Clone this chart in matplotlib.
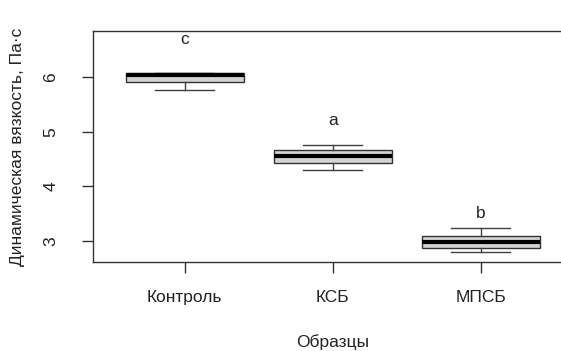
import matplotlib
matplotlib.use("Agg")
import matplotlib.pyplot as plt

plt.rcParams["font.family"] = ["Liberation Sans", "DejaVu Sans"]

# data
samples = ["Контроль", "КСБ", "МПСБ"]
whisker_low = [5.77, 4.29, 2.79]
q1 = [5.91, 4.42, 2.88]
median = [6.04, 4.55, 2.99]
q3 = [6.08, 4.66, 3.10]
whisker_high = [6.08, 4.75, 3.23]
letters = ["c", "a", "b"]
letter_y = [6.68, 5.20, 3.51]

stats = []
for i, name in enumerate(samples):
    stats.append({
        "label": name,
        "whislo": whisker_low[i],
        "q1": q1[i],
        "med": median[i],
        "q3": q3[i],
        "whishi": whisker_high[i],
        "fliers": [],
    })

fs = 12.5

fig = plt.figure(figsize=(5.61, 3.51), dpi=100)
ax = fig.add_axes([0.1658, 0.2536, 0.855, 0.658])

ax.bxp(
    stats,
    positions=[1, 2, 3],
    widths=0.8,
    patch_artist=True,
    showfliers=False,
    boxprops={"facecolor": "#d3d3d3", "edgecolor": "#333333", "linewidth": 1.0},
    medianprops={"color": "black", "linewidth": 3.0, "solid_capstyle": "butt"},
    whiskerprops={"color": "#404040", "linewidth": 1.0},
    capprops={"color": "#404040", "linewidth": 1.0},
    capwidths=0.4,
)

for i, letter in enumerate(letters):
    ax.text(i + 1, letter_y[i], letter, ha="center", va="center",
            fontsize=fs, color="#222222")

ax.set_xlim(0.38, 3.62)
ax.set_ylim(2.616, 6.841)
ax.set_yticks([3, 4, 5, 6])
ax.set_yticklabels(["3", "4", "5", "6"], rotation=90, va="center")
ax.set_xticks([1, 2, 3])
ax.set_xticklabels(samples)

ax.tick_params(axis="both", length=8, width=1.0, color="#333333",
               labelsize=fs, labelcolor="#222222")
ax.tick_params(axis="x", pad=12)
ax.tick_params(axis="y", pad=17)

for side in ["top", "bottom", "left", "right"]:
    ax.spines[side].set_color("#333333")
    ax.spines[side].set_linewidth(1.0)

ax.set_xlabel("Образцы", fontsize=fs, color="#222222", labelpad=21)
ax.set_ylabel("Динамическая вязкость, Па·с", fontsize=fs, color="#222222",
              labelpad=13)

fig.savefig("out.png", dpi=100)
